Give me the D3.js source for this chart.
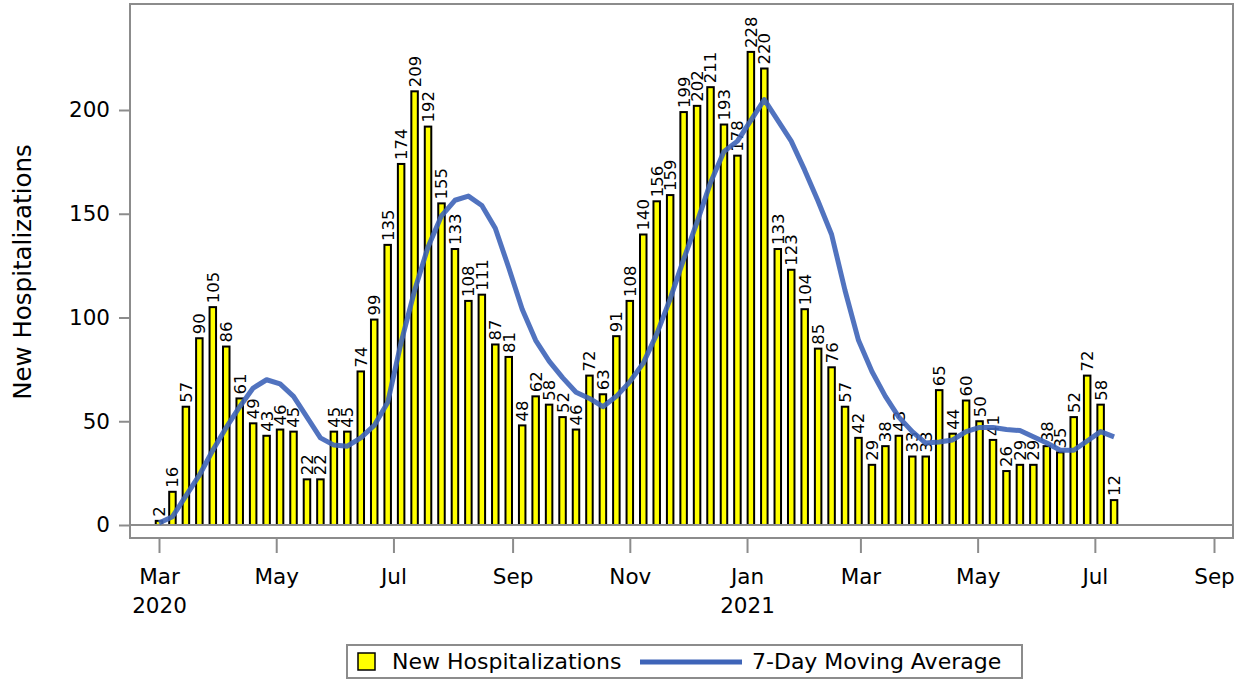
<!DOCTYPE html>
<html>
<head>
<meta charset="utf-8">
<script src="https://cdn.jsdelivr.net/npm/d3@7"></script>
<style>
  body { margin: 0; background: #fff; }
  text { font-family: "DejaVu Sans", sans-serif; fill: #000; }
</style>
</head>
<body>
<svg id="canvas"></svg>
<script>
// weekly counts, first week starts Sun 1 Mar 2020
const firstWeek = Date.UTC(2020, 2, 1);
const hospitalizations = [
  2, 16, 57, 90, 105, 86, 61, 49, 43, 46, 45, 22, 22, 45, 45, 74, 99, 135,
  174, 209, 192, 155, 133, 108, 111, 87, 81, 48, 62, 58, 52, 46, 72, 63, 91, 108,
  140, 156, 159, 199, 202, 211, 193, 178, 228, 220, 133, 123, 104, 85, 76, 57, 42, 29,
  38, 43, 33, 33, 65, 44, 60, 50, 41, 26, 29, 29, 38, 35, 52, 72, 58, 12
];
const movingAverage = [
  1, 4, 14, 24, 36, 47, 57, 66, 70, 68, 62, 52, 42, 38.5, 38, 42, 48, 59,
  88, 113, 134, 149, 156.5, 158.5, 154, 143, 124, 104, 89, 79, 71, 64, 61, 57, 62, 69,
  78, 92, 109, 128, 146, 165, 180, 185, 195, 205, 195, 185, 171, 156, 140, 113, 89, 74,
  62, 52, 45, 39.5, 40, 41, 45, 47, 47, 46, 45.5, 42.5, 39.5, 36, 36, 40.5, 45, 42.5
];
const yTicks = [0, 50, 100, 150, 200];
const xTicks = [
  [2020, 2], [2020, 4], [2020, 6], [2020, 8], [2020, 10], [2021, 0],
  [2021, 2], [2021, 4], [2021, 6], [2021, 8]
];
const yearLabels = { "2020-2": "2020", "2021-0": "2021" };
const seriesNames = ["New Hospitalizations", "7-Day Moving Average"];

const width = 1249;
const height = 682;
const frame = { left: 130, top: 4, right: 1233, bottom: 538 };
const gray = "#8c8c8c";
const lineColor = "#3e64b8";

const canvas = d3.select("#canvas").attr("width", width).attr("height", height);

const weeks = hospitalizations.map((v, i) => new Date(firstWeek + i * 7 * 864e5));

const xScale = d3.scaleUtc()
  .domain([new Date(Date.UTC(2020, 2, 1)), new Date(Date.UTC(2021, 8, 1))])
  .range([159, 1214]);

const yScale = d3.scaleLinear().domain([0, 200]).range([525, 110]);

// frame
canvas.append("rect")
  .attr("x", frame.left).attr("y", frame.top)
  .attr("width", frame.right - frame.left).attr("height", frame.bottom - frame.top)
  .attr("fill", "none").attr("stroke", gray).attr("stroke-width", 2);

// bars
canvas.append("g")
  .selectAll("rect")
  .data(hospitalizations)
  .enter()
  .append("rect")
  .attr("x", (d, i) => xScale(weeks[i]) - 3.25)
  .attr("y", (d) => yScale(d))
  .attr("width", 6.5)
  .attr("height", (d) => yScale(0) - yScale(d))
  .attr("fill", "#ffff00")
  .attr("stroke", "#000")
  .attr("stroke-width", 2);

// zero line
canvas.append("line")
  .attr("x1", frame.left).attr("x2", frame.right)
  .attr("y1", yScale(0)).attr("y2", yScale(0))
  .attr("stroke", gray).attr("stroke-width", 2);

// bar labels
canvas.append("g")
  .selectAll("text")
  .data(hospitalizations)
  .enter()
  .append("text")
  .attr("transform", (d, i) => `translate(${xScale(weeks[i])}, ${yScale(d) - 4}) rotate(-90)`)
  .attr("dy", "0.36em")
  .style("font-size", "16.5px")
  .text((d) => d);

// moving average
const line = d3.line()
  .x((d, i) => xScale(weeks[i]))
  .y((d) => yScale(d));

canvas.append("path")
  .datum(movingAverage)
  .attr("d", line)
  .attr("fill", "none")
  .attr("stroke", lineColor)
  .attr("stroke-opacity", 0.9)
  .attr("stroke-width", 5)
  .attr("stroke-linejoin", "round");

// axes
const yAxis = d3.axisLeft(yScale).tickValues(yTicks).tickSize(11).tickPadding(9);
const gy = canvas.append("g")
  .attr("transform", `translate(${frame.left}, 0)`)
  .call(yAxis);
gy.select(".domain").remove();
gy.selectAll(".tick line").attr("stroke", gray).attr("stroke-width", 2);
gy.selectAll(".tick text").style("font-size", "21.5px");

const xAxis = d3.axisBottom(xScale)
  .tickValues(xTicks.map((t) => new Date(Date.UTC(t[0], t[1], 1))))
  .tickFormat(d3.utcFormat("%b"))
  .tickSize(14)
  .tickPadding(16);
const gx = canvas.append("g")
  .attr("transform", `translate(0, ${frame.bottom + 1})`)
  .call(xAxis);
gx.select(".domain").remove();
gx.selectAll(".tick line").attr("stroke", gray).attr("stroke-width", 2);
gx.selectAll(".tick text").style("font-size", "21.5px");
gx.selectAll(".tick")
  .append("text")
  .attr("y", 30)
  .attr("dy", "2.05em")
  .attr("text-anchor", "middle")
  .style("font-size", "21.5px")
  .attr("fill", "#000")
  .text((d) => yearLabels[`${d.getUTCFullYear()}-${d.getUTCMonth()}`] || "");

canvas.append("text")
  .attr("transform", `translate(31, 272) rotate(-90)`)
  .attr("text-anchor", "middle")
  .style("font-size", "24.5px")
  .text("New Hospitalizations");

// legend
const legend = canvas.append("g");
legend.append("rect")
  .attr("x", 347).attr("y", 645).attr("width", 675).attr("height", 33)
  .attr("fill", "#fff").attr("stroke", gray).attr("stroke-width", 2);
legend.append("rect")
  .attr("x", 358).attr("y", 653).attr("width", 17).attr("height", 17)
  .attr("fill", "#ffff00").attr("stroke", "#000").attr("stroke-width", 1.5);
legend.append("text")
  .attr("x", 392).attr("y", 669)
  .style("font-size", "22px")
  .text(seriesNames[0]);
legend.append("line")
  .attr("x1", 640).attr("x2", 742).attr("y1", 662).attr("y2", 662)
  .attr("stroke", lineColor).attr("stroke-width", 5);
legend.append("text")
  .attr("x", 752).attr("y", 669)
  .style("font-size", "22px")
  .text(seriesNames[1]);
</script>
</body>
</html>
